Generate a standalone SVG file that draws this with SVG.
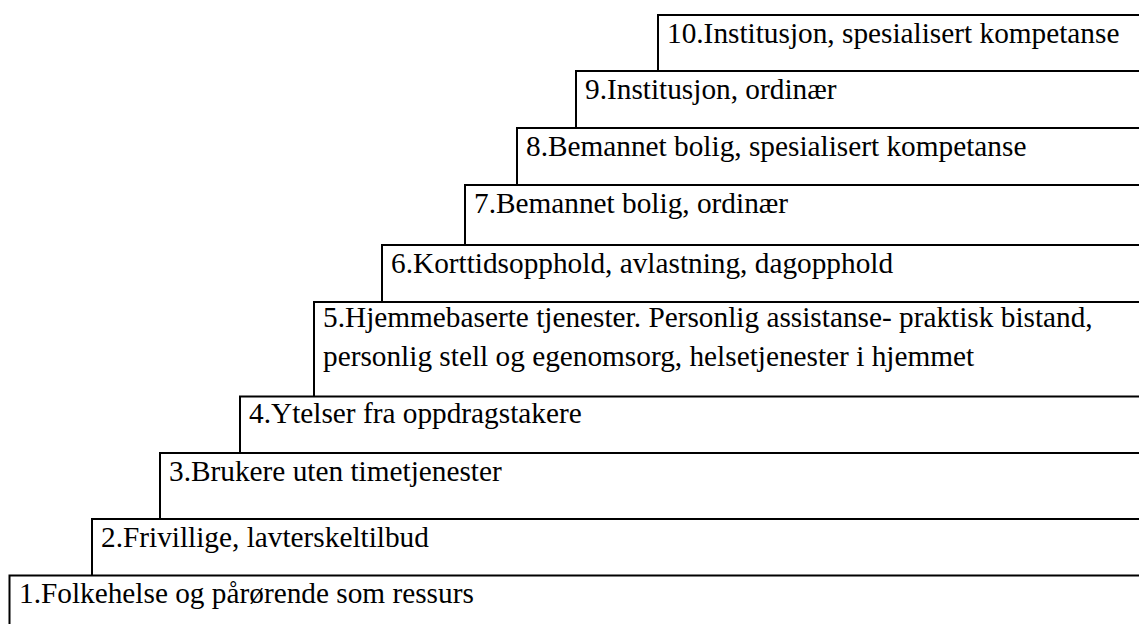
<svg xmlns="http://www.w3.org/2000/svg" width="1139" height="624" viewBox="0 0 1139 624">
<style>
.step{fill:none;stroke:#000;stroke-width:2}
</style>
<rect width="1139" height="624" fill="#fff"/>
<g font-family="'Liberation Serif', 'Times New Roman', Times, serif" font-size="29.3" fill="#000">
<g id="step10"><path class="step" d="M1140 15H658V71"/><text x="667" y="43">10.Institusjon, spesialisert kompetanse</text></g>
<g id="step9"><path class="step" d="M1140 71H576V128"/><text x="585" y="99">9.Institusjon, ordinær</text></g>
<g id="step8"><path class="step" d="M1140 128H517V185"/><text x="526" y="155.5">8.Bemannet bolig, spesialisert kompetanse</text></g>
<g id="step7"><path class="step" d="M1140 185H465V245"/><text x="474" y="212.5">7.Bemannet bolig, ordinær</text></g>
<g id="step6"><path class="step" d="M1140 245H382V302"/><text x="391" y="273">6.Korttidsopphold, avlastning, dagopphold</text></g>
<g id="step5"><path class="step" d="M1140 302H314V396.5"/><text x="323" y="327">5.Hjemmebaserte tjenester. Personlig assistanse- praktisk bistand,</text><text x="323" y="366">personlig stell og egenomsorg, helsetjenester i hjemmet</text></g>
<g id="step4"><path class="step" d="M1140 396.5H240V453"/><text x="249" y="423">4.Ytelser fra oppdragstakere</text></g>
<g id="step3"><path class="step" d="M1140 453H160V519"/><text x="169" y="481">3.Brukere uten timetjenester</text></g>
<g id="step2"><path class="step" d="M1140 519H92V575"/><text x="101" y="547">2.Frivillige, lavterskeltilbud</text></g>
<g id="step1"><path class="step" d="M1140 575.5H9.5V625"/><text x="19" y="602.5">1.Folkehelse og pårørende som ressurs</text></g>
</g>
</svg>
